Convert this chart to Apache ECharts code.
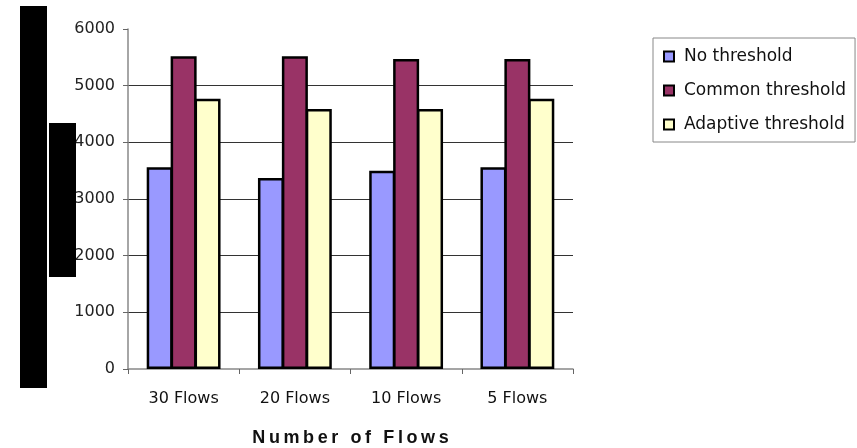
<!DOCTYPE html>
<html>
<head>
<meta charset="utf-8">
<script src="https://cdn.jsdelivr.net/npm/echarts@6/dist/echarts.min.js"></script>
<style>
  html, body { margin: 0; padding: 0; background: #fff; }
  #chart { width: 857px; height: 448px; }
</style>
</head>
<body>
<div id="chart"></div>
<script>
// Flow-count groups along the x axis
const categories = ['30 Flows', '20 Flows', '10 Flows', '5 Flows'];

// One array per threshold scheme
const noThreshold       = [3560, 3370, 3500, 3560];
const commonThreshold   = [5520, 5520, 5470, 5470];
const adaptiveThreshold = [4770, 4590, 4590, 4770];

const seriesNames = ['No threshold', 'Common threshold', 'Adaptive threshold'];
const yTicks = [0, 1000, 2000, 3000, 4000, 5000, 6000];
const xTitle = 'Number of Flows';

const colors = ['#9999FF', '#993366', '#FFFFCC'];
const labelFont = 'DejaVu Sans';

// Spread the x-axis title out with thin spaces between the letters
const spacedTitle = xTitle.split('').join('\u2009');

function bar(name, data, color) {
  return {
    name: name,
    type: 'bar',
    data: data,
    barWidth: 26,
    barGap: '-8%',
    itemStyle: { color: color, borderColor: '#000', borderWidth: 2.5 }
  };
}

const chart = echarts.init(document.getElementById('chart'));
chart.setOption({
  animation: false,
  backgroundColor: '#fff',
  grid: { left: 128, right: 284, top: 29, bottom: 79, containLabel: false, outerBoundsMode: 'none' },
  legend: {
    orient: 'vertical',
    left: 653,
    top: 38,
    data: seriesNames,
    icon: 'rect',
    itemWidth: 10,
    itemHeight: 10,
    itemGap: 17,
    padding: [10, 9, 9, 10],
    borderColor: '#888',
    borderWidth: 1,
    textStyle: { fontFamily: labelFont, fontSize: 17, color: '#111', padding: [0, 0, 0, 5] }
  },
  xAxis: {
    type: 'category',
    data: categories,
    axisLine: { lineStyle: { color: '#888', width: 1.5 } },
    axisTick: { show: true, length: 5, lineStyle: { color: '#666' } },
    axisLabel: { fontFamily: labelFont, fontSize: 16, color: '#111', margin: 22 },
    name: spacedTitle,
    nameLocation: 'middle',
    nameGap: 60,
    nameTextStyle: { fontFamily: 'Liberation Sans', fontWeight: 'bold', fontSize: 18, color: '#111' }
  },
  yAxis: {
    type: 'value',
    min: yTicks[0],
    max: yTicks[yTicks.length - 1],
    interval: 1000,
    axisLine: { show: true, lineStyle: { color: '#888', width: 1.5 } },
    axisTick: { show: true, length: 5, lineStyle: { color: '#666' } },
    axisLabel: { fontFamily: labelFont, fontSize: 16, color: '#222', margin: 13, formatter: v => String(v) },
    splitLine: { show: true, showMinLine: false, showMaxLine: false, lineStyle: { color: '#333', width: 1 } }
  },
  series: [
    bar(seriesNames[0], noThreshold, colors[0]),
    bar(seriesNames[1], commonThreshold, colors[1]),
    bar(seriesNames[2], adaptiveThreshold, colors[2])
  ],
  graphic: [
    { type: 'rect', z: 100, shape: { x: 20, y: 6, width: 27, height: 382 }, style: { fill: '#000' } },
    { type: 'rect', z: 100, shape: { x: 49, y: 123, width: 27, height: 154 }, style: { fill: '#000' } }
  ]
});
</script>
</body>
</html>
